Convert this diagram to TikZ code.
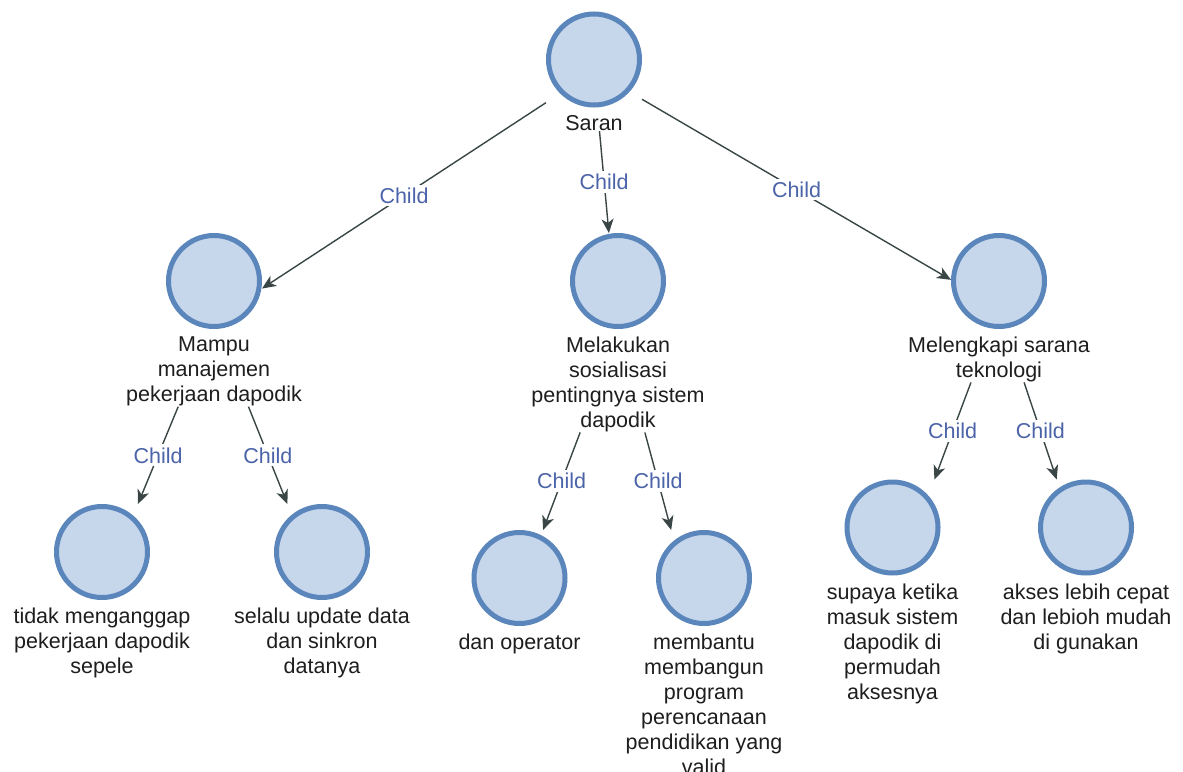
\documentclass[tikz,border=0pt]{standalone}
\usepackage{fontspec}
\setmainfont{Liberation Sans}
\usetikzlibrary{positioning,fit,arrows.meta}
\definecolor{cfill}{HTML}{C6D6EB}
\definecolor{cline}{HTML}{5A86BC}
\definecolor{eline}{HTML}{3A4646}
\definecolor{lblc}{HTML}{4B63A8}
\definecolor{txtc}{HTML}{1E1E1E}
\newcommand\mkentity[4]{%
  \node[ball] (#1C) at (#2,#3) {};
  \node[txt, below=8pt of #1C] (#1T) {#4};
  \node[box, fit=(#1C)(#1C.center |- #1T.south)] (#1B) {};
}
\begin{document}
\begin{tikzpicture}[x=1pt,y=-1pt,
  ball/.style={circle, draw=cline, fill=cfill, line width=5pt, minimum size=91pt, inner sep=0pt},
  txt/.style={align=center, inner sep=0pt, text=txtc, font=\fontsize{21.5}{25}\selectfont},
  box/.style={inner sep=0pt, outer sep=0pt},
  edge/.style={draw=eline, line width=1.4pt, -{Stealth[length=14pt,width=12pt,inset=4pt]}},
  lbl/.style={fill=white, text=lblc, inner sep=3pt, font=\fontsize{21.5}{25}\selectfont}
]
\useasboundingbox[fill=white] (0,0) rectangle (1183,771);

\mkentity{saran}{594}{59.5}{Saran}
\mkentity{mampu}{214}{281}{Mampu\\manajemen\\pekerjaan dapodik}
\mkentity{melakukan}{618}{281}{Melakukan\\sosialisasi\\pentingnya sistem\\dapodik}
\mkentity{melengkapi}{999}{281}{Melengkapi sarana\\teknologi}
\mkentity{tidak}{102}{552}{tidak menganggap\\pekerjaan dapodik\\sepele}
\mkentity{selalu}{322}{552}{selalu update data\\dan sinkron\\datanya}
\mkentity{danop}{519.5}{578}{dan operator}
\mkentity{membantu}{704}{578}{membantu\\membangun\\program\\perencanaan\\pendidikan yang\\valid}
\mkentity{supaya}{892.5}{527.5}{supaya ketika\\masuk sistem\\dapodik di\\permudah\\aksesnya}
\mkentity{akses}{1086}{527.5}{akses lebih cepat\\dan lebioh mudah\\di gunakan}

\draw[edge] (saranB) -- node[lbl]{Child} (mampuB);
\draw[edge] (saranB) -- node[lbl]{Child} (melakukanB);
\draw[edge] (saranB) -- node[lbl]{Child} (melengkapiB);
\draw[edge] (mampuB) -- node[lbl]{Child} (tidakB);
\draw[edge] (mampuB) -- node[lbl]{Child} (selaluB);
\draw[edge] (melakukanB) -- node[lbl]{Child} (danopB);
\draw[edge] (melakukanB) -- node[lbl]{Child} (membantuB);
\draw[edge] (melengkapiB) -- node[lbl]{Child} (supayaB);
\draw[edge] (melengkapiB) -- node[lbl]{Child} (aksesB);
\end{tikzpicture}
\end{document}
